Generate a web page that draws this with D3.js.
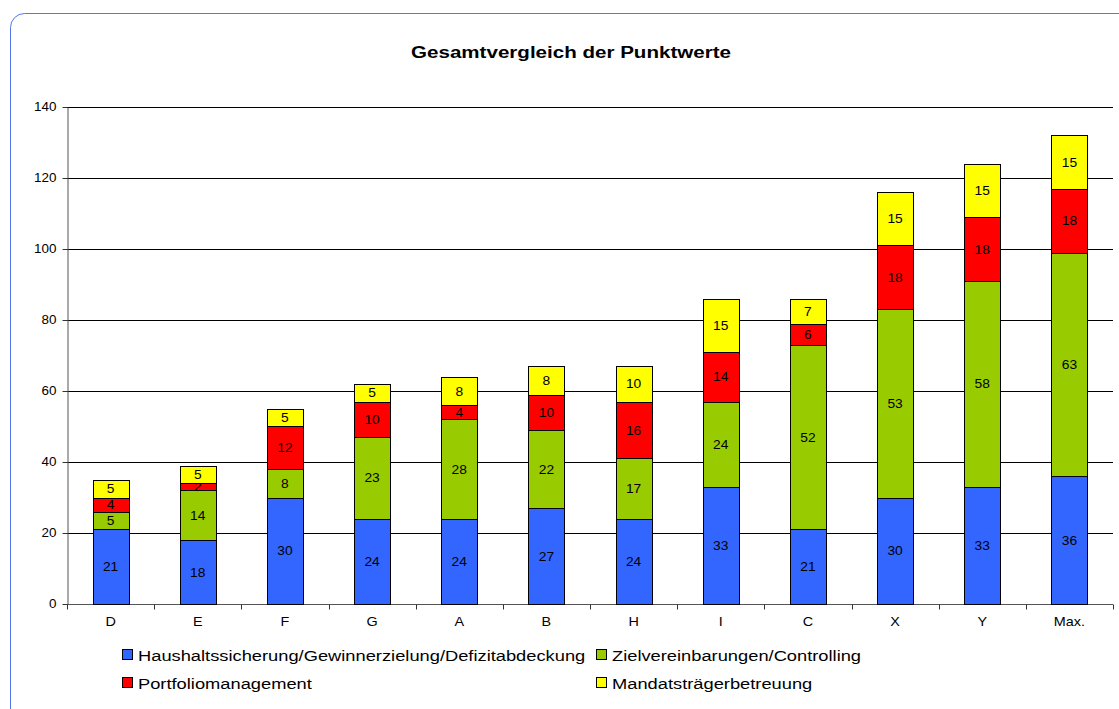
<!DOCTYPE html>
<html><head><meta charset="utf-8">
<script src="https://cdn.jsdelivr.net/npm/d3@7"></script>
<style>body{margin:0;background:#fff;} svg{display:block;font-family:"Liberation Sans",Arial,sans-serif;}</style>
</head><body>
<svg id="c" width="1119" height="709"></svg>
<script>
const categories = ["D","E","F","G","A","B","H","I","C","X","Y","Max."];
const seriesNames = ["Haushaltssicherung/Gewinnerzielung/Defizitabdeckung","Zielvereinbarungen/Controlling","Portfoliomanagement","Mandatsträgerbetreuung"];
const haushalt = [21,18,30,24,24,27,24,33,21,30,33,36];
const ziel = [5,14,8,23,28,22,17,24,52,53,58,63];
const portfolio = [4,2,12,10,4,10,16,14,6,18,18,18];
const mandat = [5,5,5,5,8,8,10,15,7,15,15,15];
const yTicks = [0,20,40,60,80,100,120,140];
const colors = ["#3366FF","#99CC00","#FF0000","#FFFF00"];

(function(){
const svg = d3.select("#c");
svg.append("rect").attr("x",10.5).attr("y",13.5).attr("width",1140).attr("height",720)
  .attr("rx",14).attr("fill","#fff").attr("stroke","#5577ee").attr("stroke-width",1);

const pL=67, pR=1113, pT=107, pB=604;
const x = d3.scaleBand().domain(categories).range([pL,pR]).paddingInner(0).paddingOuter(0);
const y = d3.scaleLinear().domain([0,140]).range([pB,pT]);

function stext(parent, tx, ty, s, str, size, anchor, weight){
  return parent.append("text").attr("transform",`translate(${tx},${ty}) scale(${s},1)`)
    .attr("text-anchor",anchor||"start").attr("font-size",size)
    .attr("font-weight",weight||"normal").attr("fill","#000").text(str);
}

stext(svg, 571, 58, 1.21, "Gesamtvergleich der Punktwerte", 17, "middle", "bold");

// gridlines
svg.append("g").selectAll("line").data(yTicks.filter(d=>d>0)).join("line")
  .attr("x1",pL).attr("x2",pR).attr("y1",d=>Math.round(y(d))+0.5).attr("y2",d=>Math.round(y(d))+0.5)
  .attr("stroke","#000").attr("stroke-width",1);

// y axis
const yAxis = svg.append("g").attr("transform",`translate(${pL+0.5},0)`)
  .call(d3.axisLeft(y).tickValues(yTicks).tickSize(5).tickSizeOuter(0));
yAxis.select(".domain").attr("stroke","#555");
yAxis.selectAll(".tick line").attr("stroke","#333");
yAxis.selectAll(".tick text").attr("font-size",12).attr("font-family","Liberation Sans, Arial")
  .attr("fill","#000").attr("x",-11/1.12).attr("transform","scale(1.12,1)");

// x axis
const xg = svg.append("g").attr("transform",`translate(0,${pB+0.5})`);
xg.append("line").attr("x1",pL).attr("x2",pR).attr("stroke","#555");
const bounds = categories.map(c=>x(c)).concat([pR]);
xg.selectAll("line.t").data(bounds).join("line").attr("class","t")
  .attr("x1",d=>Math.round(d)+0.5).attr("x2",d=>Math.round(d)+0.5).attr("y1",0).attr("y2",5).attr("stroke","#333");
categories.forEach(c=>stext(xg, x(c)+x.bandwidth()/2, 21, 1.2, c, 12, "middle"));

// stacked bars
const rows = categories.map((c,i)=>({cat:c, s0:haushalt[i], s1:ziel[i], s2:portfolio[i], s3:mandat[i]}));
const stack = d3.stack().keys(["s0","s1","s2","s3"])(rows);
const bw = 36;
stack.forEach((layer,li)=>{
  const g = svg.append("g");
  g.selectAll("rect").data(layer).join("rect")
    .attr("x",d=>Math.round(x(d.data.cat)+x.bandwidth()/2-bw/2)+0.5)
    .attr("y",d=>Math.round(y(d[1]))+0.5)
    .attr("width",bw)
    .attr("height",d=>Math.round(y(d[0]))-Math.round(y(d[1])))
    .attr("fill",colors[li]).attr("stroke","#000").attr("stroke-width",1);
  layer.forEach(d=>stext(g, x(d.data.cat)+x.bandwidth()/2, (y(d[0])+y(d[1]))/2+4.5, 1.15, d[1]-d[0], 12, "middle"));
});

// legend
const legPos = [[122,655],[596,655],[122,683],[596,683]];
seriesNames.forEach((n,i)=>{
  const [lx,ly]=legPos[i];
  svg.append("rect").attr("x",lx+0.5).attr("y",ly-5.5).attr("width",10).attr("height",10)
    .attr("fill",colors[i]).attr("stroke","#000");
  stext(svg, lx+16, ly+5.5, 1.22, n, 15, "start");
});
})();
</script>
</body></html>
